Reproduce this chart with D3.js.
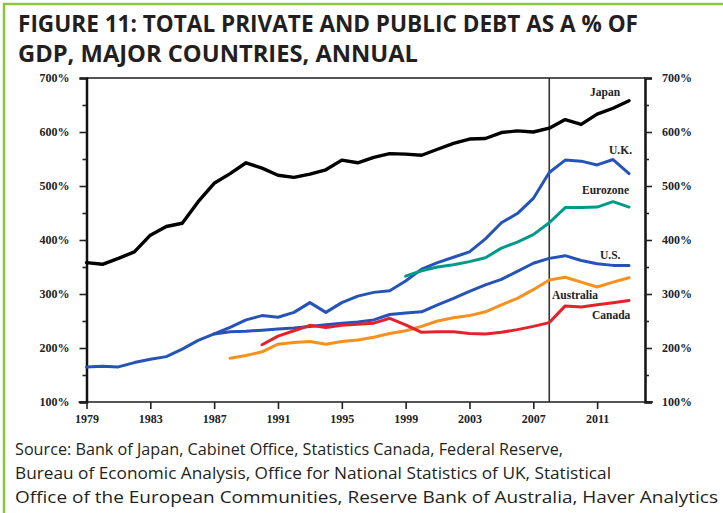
<!DOCTYPE html>
<html><head><meta charset="utf-8">
<script src="https://cdn.jsdelivr.net/npm/d3@7"></script>
<style>body{margin:0;background:#fff}svg{display:block}</style>
</head><body>
<svg id="c" width="723" height="513"></svg>
<script>
const titleLines = ["FIGURE 11: TOTAL PRIVATE AND PUBLIC DEBT AS A % OF", "GDP, MAJOR COUNTRIES, ANNUAL"];
const sourceLines = ["Source: Bank of Japan, Cabinet Office, Statistics Canada, Federal Reserve,",
  "Bureau of Economic Analysis, Office for National Statistics of UK, Statistical",
  "Office of the European Communities, Reserve Bank of Australia, Haver Analytics"];
const xTickYears = [1979, 1983, 1987, 1991, 1995, 1999, 2003, 2007, 2011];
const yTicks = [100, 200, 300, 400, 500, 600, 700];
const yMinorTicks = [150, 250, 350, 450, 550, 650];
const markerYear = 2008;

const japanStart = 1979;
const japan = [358, 355, 366, 378, 409, 425, 431, 471, 505, 523, 543, 533, 520, 516, 522, 530, 548, 543, 553, 560, 559, 557, 568, 579, 587, 588, 599, 602, 600, 607, 623, 614, 633, 644, 658];
const usStart = 1979;
const us = [165, 166, 165, 173, 179, 184, 198, 214, 226, 230, 231, 233, 235, 237, 240, 243, 246, 248, 252, 262, 265, 267, 280, 292, 305, 317, 327, 342, 357, 366, 371, 362, 356, 353, 353];
const ukStart = 1987;
const uk = [226, 238, 252, 260, 257, 266, 284, 266, 284, 296, 303, 306, 324, 346, 358, 368, 378, 402, 432, 449, 477, 525, 548, 546, 539, 549, 523];
const euroStart = 1999;
const eurozone = [333, 343, 350, 354, 360, 367, 385, 396, 410, 432, 460, 460, 461, 471, 461];
const ausStart = 1988;
const australia = [181, 186, 193, 207, 210, 212, 207, 212, 215, 220, 227, 232, 240, 250, 256, 260, 267, 280, 292, 308, 326, 331, 322, 313, 322, 330];
const canStart = 1990;
const canada = [206, 222, 232, 242, 238, 242, 244, 246, 255, 243, 229, 230, 230, 227, 226, 229, 234, 240, 247, 278, 276, 280, 284, 288];

const seriesNames = ["Japan", "U.K.", "Eurozone", "U.S.", "Australia", "Canada"];
const seriesColors = ["#000000", "#2553b8", "#00998a", "#2553b8", "#f7901e", "#e3222b"];

const series = [
  {name: seriesNames[0], start: japanStart, values: japan, color: seriesColors[0], w: 3.4, lx: 590, ly: 96},
  {name: seriesNames[3], start: usStart, values: us, color: seriesColors[3], w: 3, lx: 600, ly: 259},
  {name: seriesNames[1], start: ukStart, values: uk, color: seriesColors[1], w: 3, lx: 609, ly: 154},
  {name: seriesNames[2], start: euroStart, values: eurozone, color: seriesColors[2], w: 3, lx: 582, ly: 194},
  {name: seriesNames[4], start: ausStart, values: australia, color: seriesColors[4], w: 3, lx: 552, ly: 299},
  {name: seriesNames[5], start: canStart, values: canada, color: seriesColors[5], w: 3, lx: 592, ly: 319}
];

const svg = d3.select("#c");
// green frame
svg.append("rect").attr("x", 4).attr("y", 4).attr("width", 740).attr("height", 540)
  .attr("fill", "none").attr("stroke", "#8cc63f").attr("stroke-width", 2.5);

const x = d3.scaleLinear().domain([1979, 2014]).range([86.5, 645]);
const y = d3.scaleLinear().domain([100, 700]).range([402, 78]);

// title
svg.selectAll("text.title").data(titleLines).join("text").attr("class", "title")
  .attr("x", 18).attr("y", (d, i) => 32 + i * 30)
  .attr("textLength", (d, i) => i === 0 ? 620 : 400).attr("lengthAdjust", "spacingAndGlyphs")
  .style("font-family", "'Liberation Sans Narrow', 'Open Sans', sans-serif").style("font-weight", 700)
  .style("font-size", "24px").attr("fill", "#231f20").text(d => d);

// source
svg.selectAll("text.src").data(sourceLines).join("text").attr("class", "src")
  .attr("x", 15).attr("y", (d, i) => 455 + i * 24)
  .attr("textLength", (d, i) => [548, 596, 703][i]).attr("lengthAdjust", "spacingAndGlyphs")
  .style("font-family", "'Open Sans', 'Noto Sans', sans-serif")
  .style("font-size", "17px").attr("fill", "#231f20").text(d => d);

// plot frame
const g = svg.append("g");
g.append("line").attr("x1", x(1979)).attr("x2", x(2014)).attr("y1", y(700)).attr("y2", y(700))
  .attr("stroke", "#555").attr("stroke-width", 2);
g.append("line").attr("x1", x(1979) - 8).attr("x2", x(2014) + 8).attr("y1", y(100)).attr("y2", y(100))
  .attr("stroke", "#555").attr("stroke-width", 2.2);

// left axis
const leftAxis = g.append("g").attr("transform", `translate(${x(1979)},0)`)
  .call(d3.axisLeft(y).tickValues(yTicks).tickFormat(d => d + "%").tickSize(7).tickPadding(10));
leftAxis.select(".domain").attr("stroke", "#111").attr("stroke-width", 2.5);
const leftMinor = g.append("g").attr("transform", `translate(${x(1979)},0)`)
  .call(d3.axisLeft(y).tickValues(yMinorTicks).tickFormat("").tickSize(4));
leftMinor.select(".domain").remove();

const rightAxis = g.append("g").attr("transform", `translate(${x(2014)},0)`)
  .call(d3.axisRight(y).tickValues(yTicks).tickFormat(d => d + "%").tickSize(7).tickPadding(10));
rightAxis.select(".domain").attr("stroke", "#111").attr("stroke-width", 2.5);
const rightMinor = g.append("g").attr("transform", `translate(${x(2014)},0)`)
  .call(d3.axisRight(y).tickValues(yMinorTicks).tickFormat("").tickSize(4));
rightMinor.select(".domain").remove();

const bottomAxis = g.append("g").attr("transform", `translate(0,${y(100)})`)
  .call(d3.axisBottom(x).tickValues(xTickYears).tickFormat(d3.format("d")).tickSize(7).tickPadding(5));
bottomAxis.select(".domain").remove();

[leftAxis, rightAxis, bottomAxis, leftMinor, rightMinor].forEach(a => {
  a.selectAll(".tick line").attr("stroke", "#222").attr("stroke-width", 1.6);
  a.selectAll(".tick text").style("font-family", "'Liberation Serif', 'DejaVu Serif', serif")
    .style("font-weight", 700).style("font-size", "12px").attr("fill", "#222");
});

// vertical marker
g.append("line").attr("x1", x(markerYear)).attr("x2", x(markerYear)).attr("y1", y(700)).attr("y2", y(100))
  .attr("stroke", "#333").attr("stroke-width", 1.6);

// lines
const line = d3.line().x(d => x(d[0])).y(d => y(d[1]));
series.forEach(s => {
  const pts = s.values.map((v, i) => [s.start + i, v]);
  g.append("path").datum(pts).attr("d", line).attr("fill", "none")
    .attr("stroke", s.color).attr("stroke-width", s.w).attr("stroke-linejoin", "round").attr("stroke-linecap", "round");
});

// labels
g.selectAll("text.lbl").data(series).join("text").attr("class", "lbl")
  .attr("x", d => d.lx).attr("y", d => d.ly).text(d => d.name)
  .style("font-family", "'Liberation Serif', 'DejaVu Serif', serif").style("font-weight", 700)
  .style("font-size", "11.5px").attr("fill", "#222");
</script>
</body></html>
